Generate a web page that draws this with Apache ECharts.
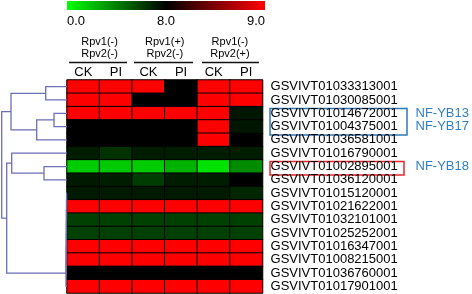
<!DOCTYPE html>
<html>
<head>
<meta charset="utf-8">
<script src="https://cdn.jsdelivr.net/npm/echarts@6/dist/echarts.min.js"></script>
<style>
  html, body { margin: 0; padding: 0; background: #fff; }
  #heat { width: 472px; height: 294px; }
</style>
</head>
<body>
<div id="heat"></div>
<script>
var FONT = 'Liberation Sans, Arial, sans-serif';

// columns and treatment groups
var cols = ['CK', 'PI', 'CK', 'PI', 'CK', 'PI'];
var groups = ['Rpv1(-)\nRpv2(-)', 'Rpv1(+)\nRpv2(-)', 'Rpv1(-)\nRpv2(+)'];

// rows, top to bottom
var genes = [
    'GSVIVT01033313001', 'GSVIVT01030085001', 'GSVIVT01014672001', 'GSVIVT01004375001',
    'GSVIVT01036581001', 'GSVIVT01016790001', 'GSVIVT01002895001', 'GSVIVT01036120001',
    'GSVIVT01015120001', 'GSVIVT01021622001', 'GSVIVT01032101001', 'GSVIVT01025252001',
    'GSVIVT01016347001', 'GSVIVT01008215001', 'GSVIVT01036760001', 'GSVIVT01017901001'
];
var tags = ['', '', 'NF-YB13', 'NF-YB17', '', '', 'NF-YB18', '', '', '', '', '', '', '', '', ''];

var values = [
    [9, 9, 9, 8, 9, 9],
    [9, 9, 8, 8, 9, 9],
    [9, 9, 9, 9, 9, 7.3],
    [8, 8, 8, 8, 9, 7.3],
    [8, 8, 8, 8, 9, 8],
    [7.1, 6.4, 7.1, 7.1, 7.1, 7.1],
    [1.6, 1.7, 1.6, 2.4, 0.9, 3.6],
    [7.2, 7.1, 6.1, 7.1, 7.1, 8],
    [7.2, 7.2, 7.2, 7.2, 7.2, 6.8],
    [9, 9, 9, 9, 9, 9],
    [6.0, 6.0, 6.0, 6.0, 6.0, 6.0],
    [6.0, 6.0, 6.0, 6.0, 6.0, 6.0],
    [9, 9, 9, 9, 9, 9],
    [9, 9, 9, 9, 9, 9],
    [8, 8, 8, 8, 8, 8],
    [9, 9, 9, 9, 9, 9]
];

// colour key
var scaleTicks = ['0.0', '8.0', '9.0'];

// dendrogram: leaves are 0..15, merge k creates node 16 + k
var mergeLeft = [0, 2, 17, 16, 6, 5, 8, 22, 23, 24, 25, 26, 27, 21, 19];
var mergeRight = [1, 3, 4, 18, 7, 20, 9, 10, 11, 12, 13, 14, 15, 28, 29];
var mergeHeight = [21.3, 13, 30.3, 56, 23, 55.3, 0.4, 0.5, 0.6, 0.7, 0.8, 0.9, 1.0, 60.3, 65.3];

var heatData = [];
values.forEach(function (row, r) {
    row.forEach(function (v, c) {
        heatData.push([c, r, v]);
    });
});

// node positions for the tree
var nodeY = [], nodeH = [];
genes.forEach(function (g, i) { nodeY.push(i + 0.5); nodeH.push(0); });
var treeData = [];
mergeLeft.forEach(function (l, k) {
    var r = mergeRight[k];
    treeData.push([nodeH[l], nodeY[l], nodeH[r], nodeY[r], mergeHeight[k]]);
    nodeY.push((nodeY[l] + nodeY[r]) / 2);
    nodeH.push(mergeHeight[k]);
});

var myChart = echarts.init(document.getElementById('heat'));

var option = {
    animation: false,
    backgroundColor: '#fff',
    textStyle: { fontFamily: FONT },
    grid: [
        { left: 67, top: 80, width: 198, height: 213 },
        { left: 0, top: 80, width: 67, height: 213 }
    ],
    xAxis: [
        {
            type: 'category', gridIndex: 0, position: 'top', data: cols,
            axisLine: { show: false }, axisTick: { show: false }, splitLine: { show: false },
            axisLabel: { color: '#000', fontSize: 13, margin: 1, fontFamily: FONT }
        },
        {
            type: 'category', gridIndex: 0, position: 'top', offset: 18, data: groups,
            axisLine: { show: false }, axisTick: { show: false }, splitLine: { show: false },
            axisLabel: { color: '#000', fontSize: 11, lineHeight: 11.7, margin: 2, fontFamily: FONT }
        },
        {
            type: 'value', gridIndex: 1, min: 0, max: 67, inverse: true, show: false
        }
    ],
    yAxis: [
        {
            type: 'category', gridIndex: 0, position: 'right', inverse: true, data: genes,
            axisLine: { show: false }, axisTick: { show: false }, splitLine: { show: false },
            axisLabel: { color: '#000', fontSize: 13, margin: 8, interval: 0, fontFamily: FONT }
        },
        {
            type: 'category', gridIndex: 0, position: 'right', inverse: true, offset: 145, data: genes,
            axisLine: { show: false }, axisTick: { show: false }, splitLine: { show: false },
            axisLabel: {
                color: '#2f7fc1', fontSize: 13, margin: 8, interval: 0, fontFamily: FONT,
                formatter: function (v, i) { return tags[i]; }
            }
        },
        {
            type: 'value', gridIndex: 1, min: 0, max: 16, inverse: true, show: false
        }
    ],
    visualMap: {
        type: 'continuous',
        show: false,
        min: 0,
        max: 9,
        seriesIndex: 0,
        inRange: {
            color: ['#00ff00', '#00df00', '#00bf00', '#009f00', '#008000',
                    '#006000', '#004000', '#002000', '#000000', '#ff0000']
        }
    },
    series: [
        {
            type: 'heatmap',
            xAxisIndex: 0,
            yAxisIndex: 0,
            data: heatData,
            itemStyle: { borderColor: '#000', borderWidth: 1 },
            emphasis: { disabled: true }
        },
        {
            type: 'custom',
            xAxisIndex: 2,
            yAxisIndex: 2,
            data: treeData,
            encode: { x: [0, 2, 4], y: [1, 3] },
            silent: true,
            renderItem: function (params, api) {
                var pts = [
                    api.coord([api.value(0), api.value(1)]),
                    api.coord([api.value(4), api.value(1)]),
                    api.coord([api.value(4), api.value(3)]),
                    api.coord([api.value(2), api.value(3)])
                ];
                return {
                    type: 'polyline',
                    shape: { points: pts },
                    style: { stroke: '#6e6eb8', fill: null, lineWidth: 1.3 }
                };
            }
        }
    ],
    graphic: [
        // colour key
        {
            type: 'rect', shape: { x: 67, y: 1, width: 198, height: 9 },
            style: {
                fill: new echarts.graphic.LinearGradient(0, 0, 1, 0, [
                    { offset: 0, color: '#00ff00' },
                    { offset: 0.5, color: '#000000' },
                    { offset: 1, color: '#ff0000' }
                ])
            }
        },
        { type: 'text', x: 67, y: 21, style: { text: scaleTicks[0], font: '13px ' + FONT, fill: '#000', align: 'left', verticalAlign: 'middle' } },
        { type: 'text', x: 166, y: 21, style: { text: scaleTicks[1], font: '13px ' + FONT, fill: '#000', align: 'center', verticalAlign: 'middle' } },
        { type: 'text', x: 265, y: 21, style: { text: scaleTicks[2], font: '13px ' + FONT, fill: '#000', align: 'right', verticalAlign: 'middle' } },
        // group underlines
        { type: 'line', shape: { x1: 69, y1: 62.5, x2: 127, y2: 62.5 }, style: { stroke: '#111', lineWidth: 1.3 } },
        { type: 'line', shape: { x1: 134, y1: 62.5, x2: 193, y2: 62.5 }, style: { stroke: '#111', lineWidth: 1.3 } },
        { type: 'line', shape: { x1: 202, y1: 62.5, x2: 259, y2: 62.5 }, style: { stroke: '#111', lineWidth: 1.3 } },
        // highlight boxes
        { type: 'rect', shape: { x: 270, y: 108.5, width: 137, height: 26.5 }, style: { fill: null, stroke: '#2e78b8', lineWidth: 1.5 } },
        { type: 'rect', shape: { x: 270, y: 161.5, width: 134, height: 13.5 }, style: { fill: null, stroke: '#e8262a', lineWidth: 1.5 } }
    ]
};

myChart.setOption(option);
window.addEventListener('resize', function () {
    myChart.resize();
});
</script>
</body>
</html>
